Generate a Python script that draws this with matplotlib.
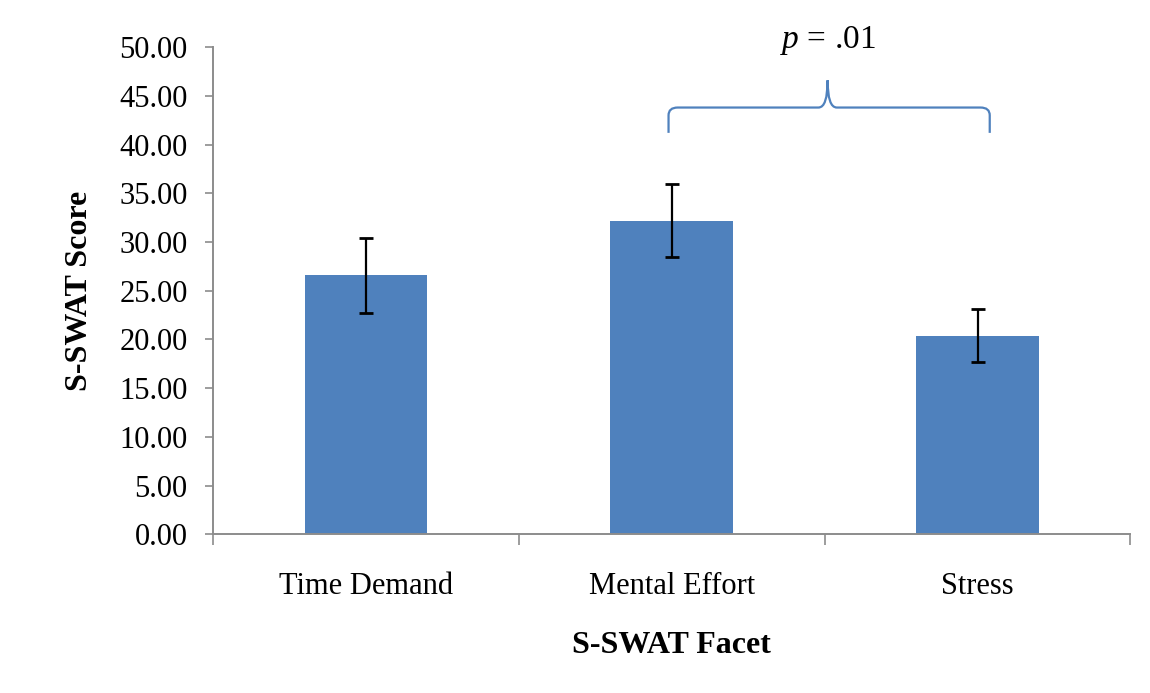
# ── Imports ───────────────────────────────────────────────────────────────────
import numpy as np
import matplotlib.pyplot as plt
from matplotlib.path import Path
from matplotlib.patches import PathPatch

# ── Data ──────────────────────────────────────────────────────────────────────
facets = ['Time Demand', 'Mental Effort', 'Stress']
scores = [26.6, 32.2, 20.4]
errors = [3.85, 3.75, 2.75]
y_ticks = np.arange(0, 50.01, 5)

BAR_COLOR = '#4F81BD'
AXIS_COLOR = '#8C8C8C'

plt.rcParams['font.family'] = ['Liberation Serif', 'DejaVu Serif']
plt.rcParams['mathtext.fontset'] = 'custom'
plt.rcParams['mathtext.it'] = 'Liberation Serif:italic'
plt.rcParams['mathtext.rm'] = 'Liberation Serif'

# ── Figure ────────────────────────────────────────────────────────────────────
fig = plt.figure(figsize=(11.5, 6.93), dpi=100)
ax = fig.add_axes([0.185, 0.229, 0.798, 0.703])

x = np.arange(len(facets))
ax.bar(x, scores, width=0.4, color=BAR_COLOR, zorder=2)
ax.errorbar(x, scores, yerr=errors, fmt='none', ecolor='black',
            elinewidth=1.6, capsize=5, capthick=2, zorder=3)

ax.set_xlim(-0.5, len(facets) - 0.5)
ax.set_ylim(0, 50)
ax.set_yticks(y_ticks)
ax.set_yticklabels([f'{v:.2f}' for v in y_ticks], fontsize=22)

# category labels centred, ticks at category boundaries
ax.set_xticks(x)
ax.set_xticklabels(facets, fontsize=22)
ax.tick_params(axis='x', which='major', length=0, pad=27)
ax.set_xticks(np.arange(-0.5, len(facets)), minor=True)
ax.tick_params(axis='x', which='minor', length=8, color=AXIS_COLOR, width=1.2)
ax.tick_params(axis='y', length=6, color=AXIS_COLOR, width=1.2, pad=12)

for side in ['top', 'right']:
    ax.spines[side].set_visible(False)
for side in ['left', 'bottom']:
    ax.spines[side].set_color(AXIS_COLOR)
    ax.spines[side].set_linewidth(1.4)

ax.set_ylabel('S-SWAT Score', fontsize=23, fontweight='bold', labelpad=18)
ax.set_xlabel('S-SWAT Facet', fontsize=23, fontweight='bold', labelpad=22)

# ── Significance bracket between Mental Effort and Stress ────────────────────
x0, x1 = 0.99, 2.04
xm = 1.51
y_end, y_line, y_tip = 41.2, 43.8, 46.6
r = 0.03
verts = [
    (x0, y_end), (x0, y_line - 0.8), (x0, y_line), (x0 + r, y_line),
    (xm - r, y_line), (xm, y_line), (xm, y_tip),
    (xm, y_line), (xm + r, y_line), (x1 - r, y_line),
    (x1, y_line), (x1, y_line - 0.8), (x1, y_end),
]
codes = [Path.MOVETO, Path.LINETO, Path.CURVE3, Path.CURVE3,
         Path.LINETO, Path.CURVE3, Path.CURVE3,
         Path.CURVE3, Path.CURVE3, Path.LINETO,
         Path.CURVE3, Path.CURVE3, Path.LINETO]
ax.add_patch(PathPatch(Path(verts, codes), fill=False, edgecolor=BAR_COLOR,
                       linewidth=1.6, clip_on=False))
ax.text(xm, 50.7, r'$\it{p}$ = .01', ha='center', va='center', fontsize=24,
        clip_on=False)

plt.savefig('out.png', dpi=100)
